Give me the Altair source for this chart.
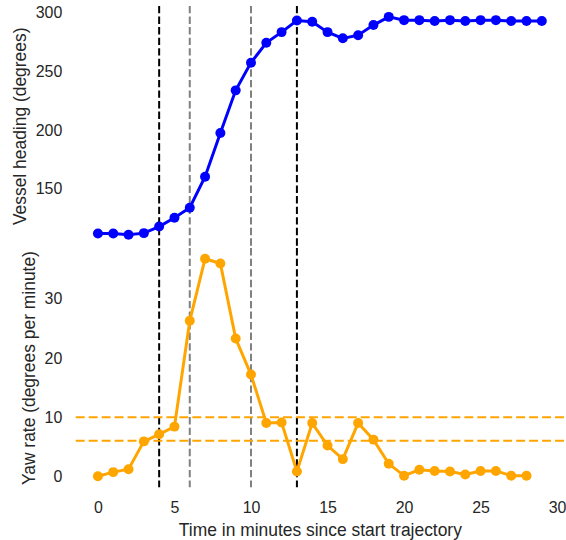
import altair as alt
import pandas as pd

minutes_heading = list(range(30))
heading = [112, 112, 111, 112.4, 118, 125.5, 134, 160.5, 197.6, 234, 257.6, 274.5,
           283.6, 293.5, 292.4, 283.6, 278.3, 281, 289.6, 296.6, 293.8, 293.8, 293,
           293.8, 293, 293.8, 293.8, 293, 293, 293]
minutes_yaw = list(range(29))
yaw = [0, 0.7, 1.2, 5.9, 7.1, 8.4, 26.3, 36.8, 36.0, 23.3, 17.2, 9.0, 9.1, 0.8, 9.0,
       5.2, 2.9, 9.0, 6.2, 2.1, 0.1, 1.1, 0.9, 0.8, 0.3, 0.9, 0.9, 0.1, 0.1]

vline_x = [4, 6, 10, 13]
vline_kind = ["black", "gray", "gray", "black"]
hline_y = [6, 10]

df_h = pd.DataFrame({"t": minutes_heading, "v": heading})
df_y = pd.DataFrame({"t": minutes_yaw, "v": yaw})
df_vl = pd.DataFrame({"x": vline_x, "kind": vline_kind})
df_hl = pd.DataFrame({"y": hline_y})

FONT = "Liberation Sans"
W = 490
xdom = [-1.45, 30.45]
xscale = alt.Scale(domain=xdom, nice=False, zero=False)
xaxis_bottom = alt.Axis(values=[0, 5, 10, 15, 20, 25, 30], title="Time in minutes since start trajectory")


def vrules(axis):
    return alt.Chart(df_vl).mark_rule(strokeWidth=2, strokeDash=[7.4, 3.2]).encode(
        x=alt.X("x:Q", scale=xscale, axis=axis),
        color=alt.Color("kind:N", scale=alt.Scale(domain=["black", "gray"], range=["#000000", "#808080"]), legend=None),
    )


top_line = alt.Chart(df_h).mark_line(color="#0000ff", strokeWidth=3,
                                     point=alt.OverlayMarkDef(color="#0000ff", size=100, opacity=1, filled=True)).encode(
    x=alt.X("t:Q", scale=xscale, axis=None),
    y=alt.Y("v:Q", scale=alt.Scale(domain=[101.7, 305.9], nice=False, zero=False),
            axis=alt.Axis(values=[150, 200, 250, 300], title="Vessel heading (degrees)")),
)
top = alt.layer(vrules(None), top_line).properties(width=W, height=240.6)

hrules = alt.Chart(df_hl).mark_rule(color="#ffa500", strokeWidth=2, strokeDash=[9, 4]).encode(
    y=alt.Y("y:Q")
)
bot_line = alt.Chart(df_y).mark_line(color="#ffa500", strokeWidth=3,
                                     point=alt.OverlayMarkDef(color="#ffa500", size=100, opacity=1, filled=True)).encode(
    x=alt.X("t:Q", scale=xscale, axis=xaxis_bottom),
    y=alt.Y("v:Q", scale=alt.Scale(domain=[-1.84, 38.6], nice=False, zero=False),
            axis=alt.Axis(values=[0, 10, 20, 30], title="Yaw rate (degrees per minute)")),
)
bottom = alt.layer(vrules(xaxis_bottom), hrules, bot_line).properties(width=W, height=239.9)

chart = alt.vconcat(top, bottom, spacing=0).resolve_scale(color="independent").properties(
    padding={"left": 11, "top": 3, "right": 0, "bottom": 3}
).configure_view(stroke=None).configure_axis(
    grid=False, domain=False, ticks=False, tickSize=0, labelPadding=14,
    labelFont=FONT, labelFontSize=16, labelColor="#262626",
    titleFont=FONT, titleFontSize=17.5, titleColor="#262626", titleFontWeight="normal",
    titlePadding=6,
).configure_axisBottom(labelPadding=12, titlePadding=7)

chart.save("out.html", embed_options={"renderer": "svg", "actions": False})
